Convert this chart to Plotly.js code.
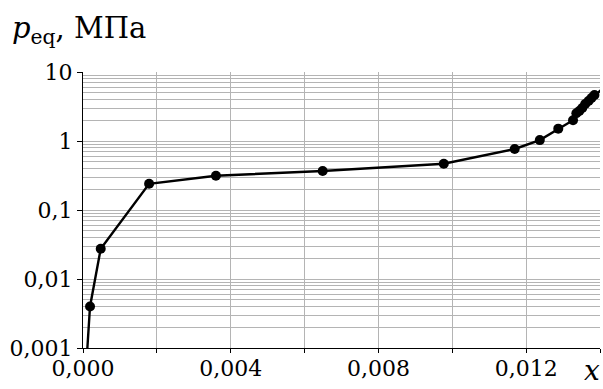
<!DOCTYPE html>
<html>
<head>
<meta charset="utf-8">
<script src="https://cdn.plot.ly/plotly-3.0.1.min.js"></script>
<style>
html,body{margin:0;padding:0;background:#fff;}
#chart{width:603px;height:389px;}
#chart .xtick text, #chart .ytick text { font-family: 'DejaVu Serif', serif !important; }
</style>
</head>
<body>
<div id="chart"></div>
<script>
// measured points (x, p_eq in MPa)
const xVals = [0.00019, 0.00048, 0.00179, 0.0036, 0.00649, 0.00977, 0.01169, 0.01237, 0.01287, 0.01327, 0.01336, 0.01344, 0.01352, 0.0136, 0.01369, 0.01377, 0.01385];
const pVals = [0.004, 0.0275, 0.24, 0.314, 0.367, 0.469, 0.766, 1.03, 1.51, 2.0, 2.52, 2.72, 3.0, 3.44, 3.8, 4.2, 4.64];
// line continues beyond the visible range at both ends
const xStart = [0.0001];
const pStart = [0.0007];
const xEnd = [0.01409];
const pEnd = [5.86];

const xTickVals = [0, 0.002, 0.004, 0.006, 0.008, 0.010, 0.012, 0.014];
const xTickText = ['0,000', '', '0,004', '', '0,008', '', '0,012', ''];
const yTickVals = [0.001, 0.01, 0.1, 1, 10];
const yTickText = ['0,001', '0,01', '0,1', '1', '10'];

const minorVals = [];
for (let d = -3; d <= 0; d++) {
  for (let k = 2; k <= 9; k++) minorVals.push(k * Math.pow(10, d));
}

const gridColor = '#b4b4b4';
const SERIF = 'DejaVu Serif';
function f(size) { return {family: SERIF, size: size, color: '#000'}; }

const traces = [
  {
    x: xStart.concat(xVals, xEnd),
    y: pStart.concat(pVals, pEnd),
    mode: 'lines',
    line: {color: '#000', width: 2.4},
    hoverinfo: 'skip'
  },
  {
    x: xVals,
    y: pVals,
    mode: 'markers',
    marker: {color: '#000', size: 10},
    cliponaxis: true
  }
];

const layout = {
  width: 603,
  height: 389,
  margin: {l: 83, r: 3, t: 72, b: 41},
  paper_bgcolor: '#fff',
  plot_bgcolor: '#fff',
  showlegend: false,
  font: f(22),
  xaxis: {
    range: [0, 0.014],
    tickvals: xTickVals,
    ticktext: xTickText,
    ticks: 'outside',
    ticklen: 4,
    tickcolor: '#000',
    ticklabelstandoff: -3,
    showgrid: true,
    gridcolor: gridColor,
    gridwidth: 1,
    showline: true,
    linecolor: '#000',
    linewidth: 1,
    zeroline: false,
    tickfont: f(22)
  },
  yaxis: {
    type: 'log',
    range: [-3, 1],
    tickvals: yTickVals,
    ticktext: yTickText,
    ticks: 'outside',
    ticklen: 5,
    tickcolor: '#000',
    showgrid: true,
    gridcolor: gridColor,
    gridwidth: 1,
    showline: true,
    linecolor: '#000',
    linewidth: 1,
    zeroline: false,
    tickfont: f(22),
    minor: {tickvals: minorVals, showgrid: true, gridcolor: gridColor, gridwidth: 1, ticks: ''}
  },
  annotations: [
    {
      text: '<i>p</i><sub>eq</sub>, МПа',
      xref: 'paper', yref: 'paper',
      x: -0.141, y: 1.152,
      xanchor: 'left', yanchor: 'middle',
      showarrow: false,
      font: f(29)
    },
    {
      text: '<i>x</i>',
      xref: 'paper', yref: 'paper',
      x: 0.985, y: -0.08,
      xanchor: 'center', yanchor: 'middle',
      showarrow: false,
      font: f(28)
    }
  ]
};

Plotly.newPlot('chart', traces, layout, {staticPlot: true});
</script>
</body>
</html>
